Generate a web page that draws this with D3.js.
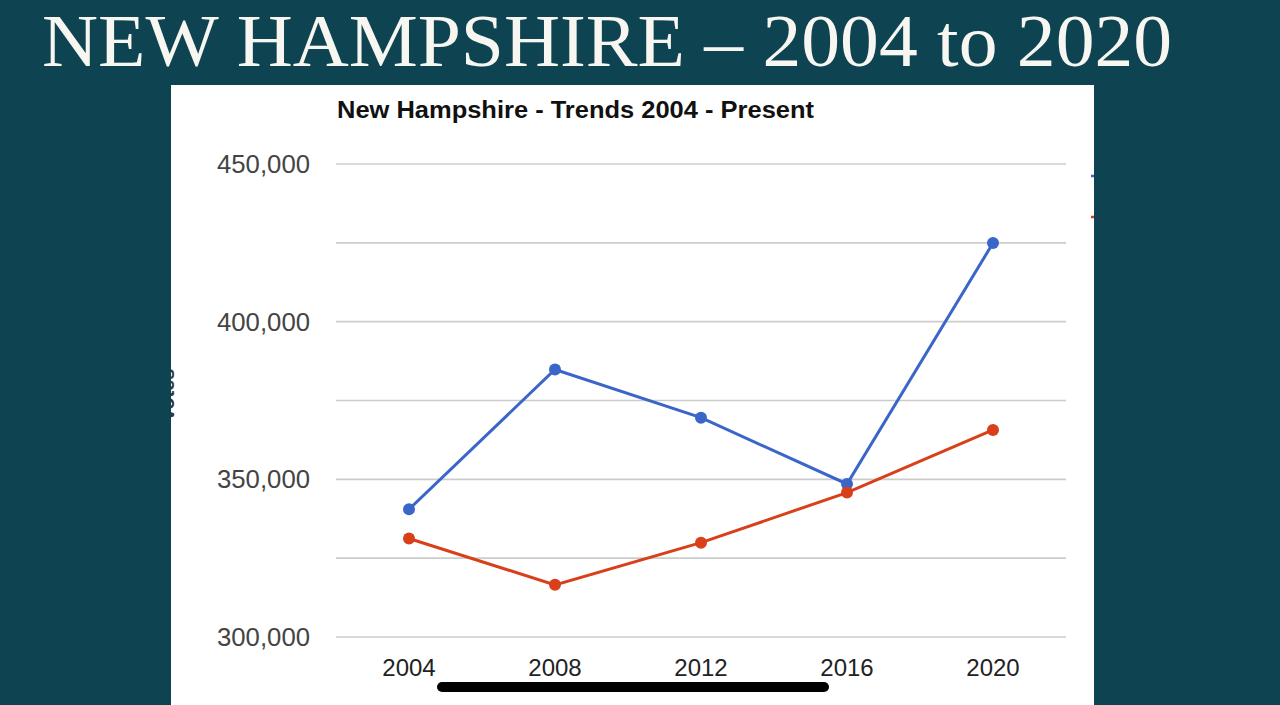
<!DOCTYPE html>
<html>
<head>
<meta charset="utf-8">
<script src="https://cdn.jsdelivr.net/npm/d3@7"></script>
<style>
  body { margin: 0; background: #0e4351; }
  svg { display: block; }
</style>
</head>
<body>
<div id="chart"></div>
<script>
// Daten (Stimmen je Wahljahr)
const years = [2004, 2008, 2012, 2016, 2020];
const demVotes = [340511, 384826, 369561, 348526, 424937];
const repVotes = [331237, 316534, 329918, 345790, 365660];
const yTicks = [300000, 325000, 350000, 375000, 400000, 425000, 450000];
const yLabels = [300000, 350000, 400000, 450000];

const W = 1280, H = 705;
const svg = d3.select("#chart").append("svg")
    .attr("width", W)
    .attr("height", H);

svg.append("rect").attr("width", W).attr("height", H).attr("fill", "#0e4351");

// Überschrift
svg.append("text")
    .attr("x", 42)
    .attr("y", 66)
    .attr("textLength", 1130)
    .attr("lengthAdjust", "spacingAndGlyphs")
    .style("font-family", "'Liberation Serif', 'DejaVu Serif', serif")
    .style("font-size", "74px")
    .style("fill", "#f7f6f0")
    .text("NEW HAMPSHIRE – 2004 to 2020");

// weißes Panel mit Clip
const panel = { x: 171, y: 85, w: 923, h: 620 };
svg.append("clipPath").attr("id", "panelClip")
  .append("rect").attr("x", panel.x).attr("y", panel.y).attr("width", panel.w).attr("height", panel.h);

svg.append("rect")
    .attr("x", panel.x).attr("y", panel.y)
    .attr("width", panel.w).attr("height", panel.h)
    .attr("fill", "#ffffff");

const g = svg.append("g").attr("clip-path", "url(#panelClip)");

// Skalen
const x = d3.scalePoint().domain(years).range([409, 993]);
const y = d3.scaleLinear().domain([300000, 450000]).range([637, 164]);

// Gitterlinien
g.selectAll("line.grid")
  .data(yTicks)
  .join("line")
    .attr("class", "grid")
    .attr("x1", 336).attr("x2", 1066)
    .attr("y1", d => y(d)).attr("y2", d => y(d))
    .attr("stroke", "#cccccc")
    .attr("stroke-width", 1.6);

// Achsenbeschriftung Y
g.selectAll("text.ylab")
  .data(yLabels)
  .join("text")
    .attr("class", "ylab")
    .attr("x", 310)
    .attr("y", d => y(d) + 9)
    .attr("text-anchor", "end")
    .attr("textLength", 93)
    .attr("lengthAdjust", "spacingAndGlyphs")
    .style("font-family", "'Liberation Sans', Arial, sans-serif")
    .style("font-size", "25px")
    .style("fill", "#444")
    .text(d => d3.format(",")(d));

// Achsenbeschriftung X
g.selectAll("text.xlab")
  .data(years)
  .join("text")
    .attr("class", "xlab")
    .attr("x", d => x(d))
    .attr("y", 676)
    .attr("text-anchor", "middle")
    .style("font-family", "'Liberation Sans', Arial, sans-serif")
    .style("font-size", "24px")
    .style("fill", "#222")
    .text(d => d);

// Diagrammtitel
g.append("text")
    .attr("x", 337)
    .attr("y", 118)
    .attr("textLength", 477)
    .attr("lengthAdjust", "spacingAndGlyphs")
    .style("font-family", "'Liberation Sans', Arial, sans-serif")
    .style("font-size", "23px")
    .style("font-weight", "bold")
    .style("fill", "#111")
    .text("New Hampshire - Trends 2004 - Present");

// Y-Achsentitel (abgeschnitten am Panelrand)
g.append("text")
    .attr("transform", "translate(174,395) rotate(-90)")
    .attr("text-anchor", "middle")
    .style("font-family", "'Liberation Sans', Arial, sans-serif")
    .style("font-size", "20px")
    .style("font-weight", "bold")
    .style("fill", "#333")
    .text("Votes");

// Linien und Punkte
const series = [
  { name: "Democrat", values: demVotes, color: "#3a66c9", legendY: 176 },
  { name: "Republican", values: repVotes, color: "#d8401a", legendY: 217 }
];

const line = d3.line()
    .x((d, i) => x(years[i]))
    .y(d => y(d));

series.forEach(s => {
  g.append("path")
      .datum(s.values)
      .attr("d", line)
      .attr("fill", "none")
      .attr("stroke", s.color)
      .attr("stroke-width", 3);

  g.selectAll(null)
    .data(s.values)
    .join("circle")
      .attr("cx", (d, i) => x(years[i]))
      .attr("cy", d => y(d))
      .attr("r", 6)
      .attr("fill", s.color);

  // Legende (fast komplett außerhalb des Panels)
  g.append("line")
      .attr("x1", 1091).attr("x2", 1120)
      .attr("y1", s.legendY).attr("y2", s.legendY)
      .attr("stroke", s.color)
      .attr("stroke-width", 2.5);
});

// Home-Indikator des Screenshots
svg.append("rect")
    .attr("x", 437).attr("y", 682)
    .attr("width", 392).attr("height", 10)
    .attr("rx", 5)
    .attr("fill", "#000");
</script>
</body>
</html>
